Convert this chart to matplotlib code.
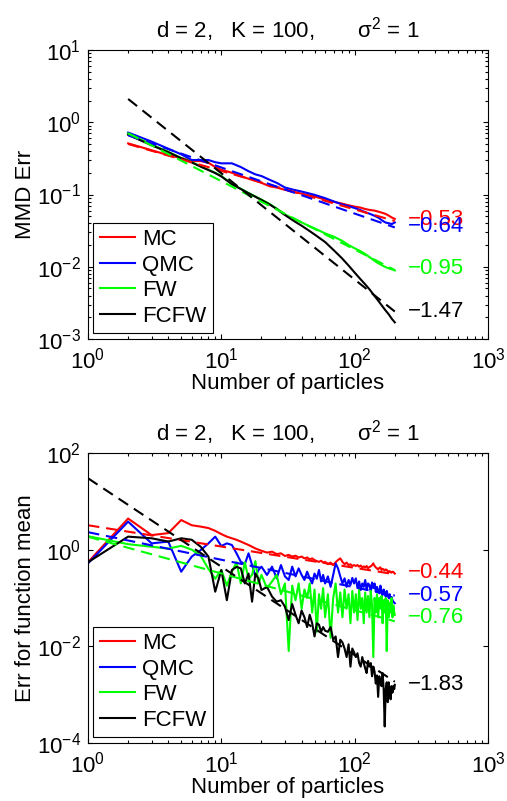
import matplotlib
matplotlib.use('Agg')
import matplotlib.pyplot as plt
from matplotlib.ticker import LogLocator, FixedLocator, NullLocator, NullFormatter

plt.rcParams['font.family'] = ['Liberation Sans', 'DejaVu Sans']
plt.rcParams['mathtext.fontset'] = 'custom'
plt.rcParams['mathtext.rm'] = 'Liberation Sans'
plt.rcParams['mathtext.it'] = 'Liberation Sans:italic'
plt.rcParams['mathtext.default'] = 'regular'
plt.rcParams['font.size'] = 16

methods = ['MC', 'QMC', 'FW', 'FCFW']
colors = ['#ff0000', '#0000ff', '#00ff00', '#000000']

# ---------------- top panel: MMD error ----------------
x_top = [2, 3, 4, 5, 6, 7, 8, 9, 10, 12, 14, 16, 18, 20, 23, 26, 30, 35, 40, 45, 50,
         60, 70, 80, 90, 100, 110, 120, 130, 140, 150, 160, 170, 180, 190, 200]
mmd_mc = [0.51, 0.41, 0.35, 0.32, 0.29, 0.29, 0.275, 0.24, 0.22, 0.2, 0.18, 0.165, 0.155,
          0.145, 0.13, 0.125, 0.116, 0.108, 0.103, 0.098, 0.094, 0.085, 0.079, 0.075, 0.071,
          0.068, 0.066, 0.063, 0.061, 0.06, 0.058, 0.056, 0.054, 0.051, 0.048, 0.046]
mmd_qmc = [0.72, 0.54, 0.43, 0.36, 0.3, 0.3, 0.3, 0.28, 0.27, 0.27, 0.24, 0.21, 0.19, 0.18,
           0.16, 0.145, 0.125, 0.116, 0.11, 0.104, 0.099, 0.089, 0.08, 0.073, 0.069, 0.065,
           0.061, 0.057, 0.054, 0.051, 0.048, 0.044, 0.041, 0.04, 0.039, 0.041]
mmd_fw = [0.7, 0.49, 0.39, 0.32, 0.28, 0.245, 0.22, 0.2, 0.18, 0.14, 0.12, 0.105, 0.094,
          0.085, 0.074, 0.064, 0.053, 0.046, 0.041, 0.037, 0.034, 0.029, 0.026, 0.023, 0.02,
          0.018, 0.0165, 0.015, 0.0135, 0.0122, 0.0112, 0.0105, 0.0099, 0.0095, 0.0092, 0.0089]
mmd_fcfw = [0.67, 0.48, 0.385, 0.318, 0.278, 0.243, 0.218, 0.198, 0.178, 0.139, 0.119,
            0.104, 0.093, 0.084, 0.073, 0.063, 0.052, 0.043, 0.037, 0.032, 0.028, 0.022,
            0.0168, 0.0132, 0.0104, 0.0083, 0.0068, 0.0057, 0.0048, 0.004, 0.0034, 0.0029,
            0.0025, 0.0022, 0.0019, 0.0017]
top_fit_x = [2, 200]
top_fit_start = [0.5, 0.66, 0.7, 2.1]
top_fit_end = [0.043, 0.035, 0.009, 0.0024]
top_rates = ['\u22120.53', '\u22120.64', '\u22120.95', '\u22121.47']
top_rate_y = [0.045, 0.036, 0.0095, 0.0024]

# ---------------- bottom panel: error for function mean ----------------
x_bot = [1, 2, 3, 4, 5, 6, 7, 8, 9, 10, 11, 12, 13, 14, 15, 16, 17, 18, 19, 20,
         22, 24, 26, 28, 30, 32, 34, 36, 38, 40, 42, 44, 46, 48, 50, 52, 54, 56, 58, 60,
         63, 66, 69, 72, 75, 78, 81, 84, 87, 90, 93, 96, 99,
         102, 105, 108, 111, 114, 117, 120, 123, 126, 129, 132, 135, 138, 141, 144, 147,
         150, 153, 156, 159, 162, 165, 168, 171, 174, 177, 180, 183, 186, 189, 192, 195,
         198, 200]
fm_mc = [0.55, 4.4, 2.0, 2.2, 4.1, 3.2, 3.0, 2.8, 2.45, 2.1, 1.86, 1.72, 1.6, 1.47, 1.35,
         1.25, 1.15, 1.06, 1.0, 0.95,
         0.87, 0.91, 0.81, 0.84, 0.74, 0.78, 0.72, 0.75, 0.69, 0.72, 0.66, 0.69, 0.63, 0.66,
         0.61, 0.58, 0.56, 0.59, 0.54, 0.56,
         0.5, 0.54, 0.48, 0.55, 0.61, 0.66, 0.56, 0.5, 0.54, 0.48, 0.5, 0.46, 0.48,
         0.46, 0.48, 0.445, 0.47, 0.43, 0.45, 0.43, 0.46, 0.41, 0.44, 0.45, 0.48, 0.52, 0.46,
         0.43, 0.41, 0.39, 0.42, 0.43, 0.38, 0.4, 0.39, 0.37, 0.39, 0.38, 0.36, 0.345, 0.36,
         0.34, 0.335, 0.35, 0.345, 0.33, 0.32]
fm_qmc = [0.52, 3.8, 1.35, 1.47, 0.35, 0.72, 0.98, 1.35, 1.86, 1.19, 1.35, 1.25, 0.84, 0.56,
          0.5, 0.84, 0.48, 0.28, 0.38, 0.445,
          0.3, 0.445, 0.255, 0.48, 0.28, 0.236, 0.445, 0.28, 0.41, 0.3, 0.236, 0.35, 0.255,
          0.2, 0.32, 0.25, 0.38, 0.22, 0.3, 0.2,
          0.28, 0.17, 0.3, 0.52, 0.41, 0.28, 0.2, 0.255, 0.17, 0.236, 0.186, 0.26, 0.2,
          0.255, 0.16, 0.22, 0.146, 0.2, 0.17, 0.236, 0.146, 0.2, 0.186, 0.135, 0.21, 0.16,
          0.2, 0.135, 0.17, 0.146, 0.125, 0.18, 0.135, 0.115, 0.15, 0.125, 0.107, 0.14, 0.115,
          0.1, 0.12, 0.095, 0.105, 0.091, 0.084, 0.08, 0.078]
fm_fw = [1.9, 1.3, 1.15, 1.05, 1.2, 1.0, 0.75, 0.4, 0.25, 0.38, 0.18, 0.35, 0.55, 0.2, 0.55,
         0.25, 0.3, 0.58, 0.2, 0.3,
         0.16, 0.22, 0.3, 0.12, 0.2, 0.008, 0.18, 0.09, 0.2, 0.06, 0.15, 0.1, 0.2, 0.05, 0.15,
         0.02, 0.12, 0.06, 0.16, 0.04,
         0.12, 0.015, 0.1, 0.2, 0.05, 0.13, 0.04, 0.15, 0.06, 0.12, 0.03, 0.14, 0.05,
         0.12, 0.035, 0.15, 0.06, 0.1, 0.03, 0.13, 0.05, 0.11, 0.04, 0.14, 0.07, 0.006, 0.1,
         0.05, 0.12, 0.04, 0.1, 0.06, 0.11, 0.03, 0.09, 0.05, 0.1, 0.008, 0.09, 0.04, 0.08,
         0.05, 0.1, 0.04, 0.07, 0.05, 0.045]
fm_fcfw = [0.55, 1.86, 1.72, 1.47, 1.72, 1.6, 1.15, 0.72, 0.135, 0.38, 0.09, 0.38, 0.44, 0.41,
           0.2, 0.32, 0.084, 0.32, 0.25, 0.146,
           0.17, 0.107, 0.084, 0.09, 0.066, 0.035, 0.075, 0.045, 0.03, 0.055, 0.04, 0.025,
           0.045, 0.03, 0.016, 0.03, 0.028, 0.02, 0.025, 0.021,
           0.02, 0.025, 0.0137, 0.016, 0.006, 0.0137, 0.012, 0.009, 0.006, 0.011, 0.0038,
           0.009, 0.0075,
           0.006, 0.0072, 0.0045, 0.0038, 0.006, 0.0045, 0.0035, 0.0028, 0.005, 0.0038,
           0.0045, 0.0024, 0.0038, 0.003, 0.0017, 0.0025, 0.0009, 0.0024, 0.0018, 0.0015,
           0.0028, 0.0013, 0.00022, 0.0013, 0.0018, 0.0007, 0.0018, 0.0012, 0.0008, 0.0015,
           0.0011, 0.0015, 0.0013, 0.0016]
bot_fit_x = [1, 200]
bot_fit_start = [3.2, 2.3, 1.85, 30.0]
bot_fit_end = [0.31, 0.112, 0.033, 0.00185]
bot_rates = ['\u22120.44', '\u22120.57', '\u22120.76', '\u22121.83']
bot_rate_y = [0.33, 0.115, 0.039, 0.0016]

title = 'd = 2,   K = 100,       \u03c3$^{2}$ = 1'

fig = plt.figure(figsize=(5.07, 8.01), dpi=100)
ax1 = fig.add_axes([88 / 507, 1 - 339 / 801, 400 / 507, 289 / 801])
ax2 = fig.add_axes([88 / 507, 1 - 743 / 801, 400 / 507, 290 / 801])


def draw(ax, x, series, fit_x, fit_s, fit_e, rates, rate_y, ylim, ylabel, yticks, yminor):
    handles = []
    for ys, c, m in zip(series, colors, methods):
        h, = ax.plot(x, ys, color=c, lw=1.5, label=m)
        handles.append(h)
    for s, e, c in zip(fit_s, fit_e, colors):
        ln, = ax.plot(fit_x, [s, e], color=c, lw=1.5)
        ln.set_dashes([5.5, 3.3])
    for r, y, c in zip(rates, rate_y, colors):
        ax.text(250, y, r, color=c, ha='left', va='center', fontsize=16)
    ax.set_xscale('log')
    ax.set_yscale('log')
    ax.set_xlim(1, 1000)
    ax.set_ylim(*ylim)
    ax.xaxis.set_major_locator(FixedLocator([1, 10, 100, 1000]))
    ax.xaxis.set_minor_locator(LogLocator(base=10, subs=range(2, 10), numticks=20))
    ax.xaxis.set_minor_formatter(NullFormatter())
    ax.yaxis.set_major_locator(FixedLocator(yticks))
    if yminor:
        ax.yaxis.set_minor_locator(LogLocator(base=10, subs=range(2, 10), numticks=20))
    else:
        ax.yaxis.set_minor_locator(NullLocator())
    ax.yaxis.set_minor_formatter(NullFormatter())
    ax.tick_params(which='both', direction='in', top=True, right=True, width=0.8)
    ax.tick_params(which='major', length=3.6)
    ax.tick_params(axis='y', which='major', pad=5)
    ax.tick_params(axis='x', which='major', pad=6)
    ax.tick_params(which='minor', length=2.0)
    for sp in ax.spines.values():
        sp.set_linewidth(0.8)
    ax.set_title(title, pad=9, fontsize=16)
    ax.set_xlabel('Number of particles', labelpad=0)
    ax.set_ylabel(ylabel)
    ax.yaxis.set_label_coords(-0.13, 0.5)
    leg = ax.legend(handles=handles, loc='lower left', bbox_to_anchor=(0.0125, 0.02),
                    borderaxespad=0, fancybox=False, framealpha=1, edgecolor='black',
                    handlelength=1.6, handletextpad=0.3, labelspacing=0.2, borderpad=0.3,
                    fontsize=16)
    leg.get_frame().set_linewidth(0.8)


draw(ax1, x_top, [mmd_mc, mmd_qmc, mmd_fw, mmd_fcfw], top_fit_x, top_fit_start, top_fit_end,
     top_rates, top_rate_y, (1e-3, 10), 'MMD Err', [1e-3, 1e-2, 1e-1, 1, 10], True)
draw(ax2, x_bot, [fm_mc, fm_qmc, fm_fw, fm_fcfw], bot_fit_x, bot_fit_start, bot_fit_end,
     bot_rates, bot_rate_y, (1e-4, 100), 'Err for function mean', [1e-4, 1e-2, 1, 100], False)

fig.savefig('out.png', dpi=100)
